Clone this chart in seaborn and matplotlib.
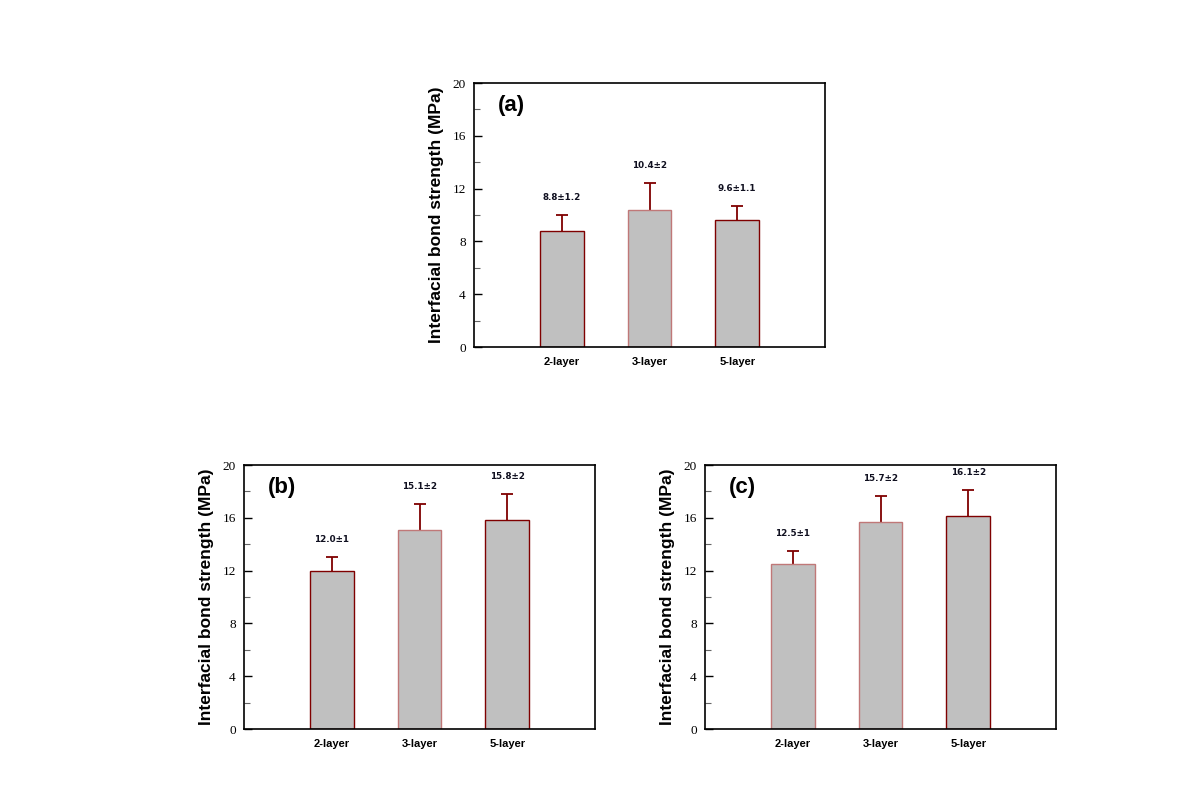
import numpy as np
import pandas as pd
import seaborn as sns
import matplotlib.pyplot as plt
from matplotlib.ticker import MultipleLocator

# -------------------------------
# Data
# -------------------------------
layers = ["2-layer", "3-layer", "5-layer"]
panels = ["(a)", "(b)", "(c)"]

strength_a = [8.8, 10.4, 9.6]
strength_b = [12.0, 15.05, 15.8]
strength_c = [12.5, 15.65, 16.1]

err_a = [1.2, 2.0, 1.1]
err_b = [1.0, 2.0, 2.0]
err_c = [1.0, 2.0, 2.0]

labels_a = ["8.8\u00b11.2", "10.4\u00b12", "9.6\u00b11.1"]
labels_b = ["12.0\u00b11", "15.1\u00b12", "15.8\u00b12"]
labels_c = ["12.5\u00b11", "15.7\u00b12", "16.1\u00b12"]

# -------------------------------
# Style
# -------------------------------
sns.set_style("white")
plt.rcParams["font.family"] = ["Liberation Sans", "DejaVu Sans"]
plt.rcParams["text.color"] = "black"
plt.rcParams["axes.labelcolor"] = "black"
plt.rcParams["xtick.color"] = "black"
plt.rcParams["ytick.color"] = "black"

dark = "#7f0000"
light = "#c07878"
edges = {
    "(a)": [dark, light, dark],
    "(b)": [dark, light, dark],
    "(c)": [light, light, dark],
}

fig = plt.figure(figsize=(11.84, 7.94), dpi=100)
w, h = 351 / 1184, 264 / 794
ax_a = fig.add_axes([474 / 1184, 1 - 347 / 794, w, h])
ax_b = fig.add_axes([244 / 1184, 1 - 729 / 794, w, h])
ax_c = fig.add_axes([705 / 1184, 1 - 729 / 794, w, h])

panel_data = [
    (ax_a, "(a)", strength_a, err_a, labels_a),
    (ax_b, "(b)", strength_b, err_b, labels_b),
    (ax_c, "(c)", strength_c, err_c, labels_c),
]

for ax, name, vals, errs, labs in panel_data:
    df = pd.DataFrame({"layer": layers, "strength": vals})
    sns.barplot(data=df, x="layer", y="strength", color="#c0c0c0",
                width=0.5, saturation=1, ax=ax, zorder=2)
    for bar, ec in zip(ax.patches, edges[name]):
        bar.set_edgecolor(ec)
        bar.set_linewidth(1.0)

    # upward-only error bars: stem behind the bar, cap on top
    xs = np.arange(len(layers))
    tops = np.array(vals) + np.array(errs)
    ax.vlines(xs, vals, tops, color=dark, linewidth=1.3, zorder=1)
    ax.plot(xs, tops, linestyle="none", marker="_", markersize=8,
            markeredgewidth=1.3, color=dark, zorder=1)

    for i, (v, e, t) in enumerate(zip(vals, errs, labs)):
        ax.text(i, v + e + 1.0, t, ha="center", va="bottom",
                fontsize=6.3, fontweight="bold", color="#101020",
                family=["DejaVu Sans"])

    ax.set_xlim(-1, 3)
    ax.set_ylim(0, 20)
    ax.yaxis.set_major_locator(MultipleLocator(4))
    ax.yaxis.set_minor_locator(MultipleLocator(2))
    ax.tick_params(axis="y", which="major", direction="in", length=6,
                   width=1, left=True, labelsize=9.5, pad=6)
    ax.tick_params(axis="y", which="minor", direction="in", length=4,
                   width=0.8, color="#666666", left=True)
    ax.tick_params(axis="x", length=0, pad=7)
    for lab in ax.get_yticklabels():
        lab.set_family(["Liberation Serif", "DejaVu Serif"])
    for lab in ax.get_xticklabels():
        lab.set_fontweight("bold")
        lab.set_fontsize(8)

    ax.set_xlabel("")
    ax.set_ylabel("Interfacial bond strength (MPa)", fontsize=12.5,
                  fontweight="bold", labelpad=6)
    for sp in ax.spines.values():
        sp.set_visible(True)
        sp.set_color("black")
        sp.set_linewidth(1.2)

    ax.text(0.068, 0.915, name, transform=ax.transAxes, ha="left",
            va="center", fontsize=16, fontweight="bold")

fig.savefig("out.png", dpi=100)
